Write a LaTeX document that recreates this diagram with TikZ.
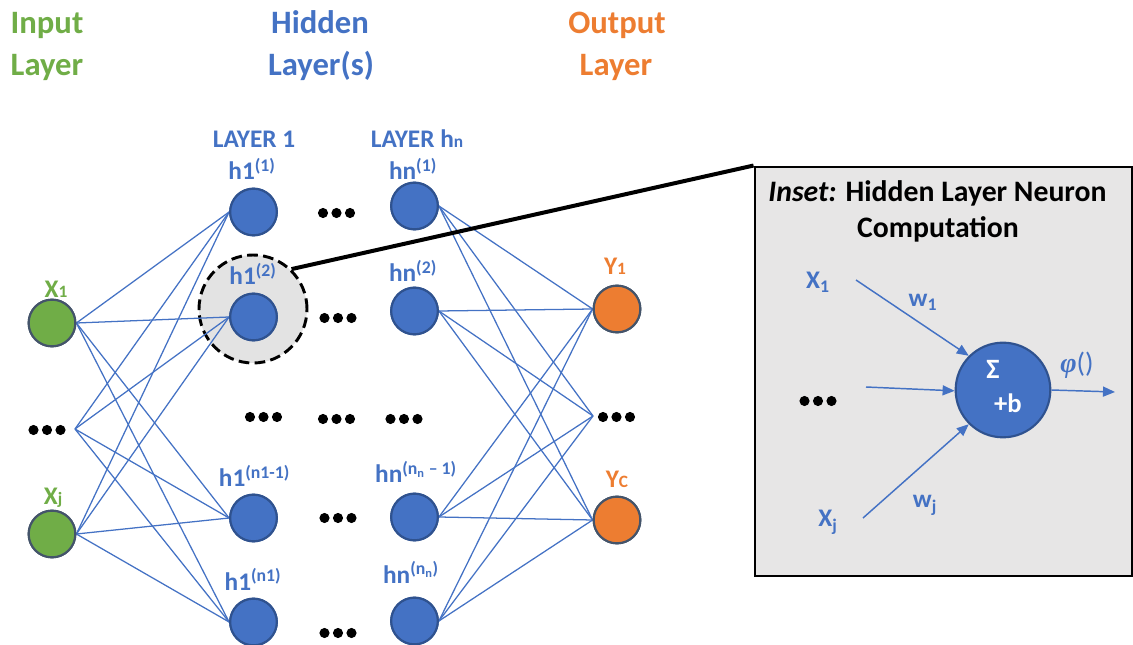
\documentclass[tikz,border=0pt]{standalone}
\usepackage{fontspec}
\setmainfont{Carlito}
\newfontfamily\phifont{Liberation Serif}
\usetikzlibrary{arrows.meta}

\definecolor{nnblue}{HTML}{4472C4}
\definecolor{nnblueedge}{HTML}{2F528F}
\definecolor{nngreen}{HTML}{70AD47}
\definecolor{nnorange}{HTML}{ED7D31}
\definecolor{nnslate}{HTML}{44546A}
\definecolor{insetgray}{HTML}{E7E6E6}
\definecolor{focusgray}{HTML}{E3E3E3}

% small index letter sitting on the baseline
\newcommand\baseidx[1]{{\fontsize{13}{15}\selectfont #1}}

\tikzset{
  threedots/.pic={\foreach \dx in {-13.5,0,13.5} \fill (\dx,0) circle[radius=3.8pt];},
}

\begin{document}
\begin{tikzpicture}[x=0.75pt,y=-0.75pt,
  neuron/.style={circle, minimum size=35pt, inner sep=0pt, line width=1.6pt},
  hid/.style={neuron, fill=nnblue, draw=nnblueedge},
  inp/.style={neuron, fill=nngreen, draw=nnslate},
  outp/.style={neuron, fill=nnorange, draw=nnslate},
  link/.style={draw=nnblue, line width=0.95pt},
  title/.style={font=\fontsize{24.5}{31.5}\selectfont\bfseries, anchor=base, inner sep=0pt},
  lbl/.style={font=\fontsize{19}{22}\selectfont\bfseries, text=nnblue, anchor=base, inner sep=0pt},
  inlbl/.style={lbl, text=nngreen},
  outlbl/.style={lbl, text=nnorange},
  insettitle/.style={font=\fontsize{22.3}{26}\selectfont\bfseries, anchor=base, inner sep=0pt},
  wire/.style={draw=nnblue, line width=1.1pt, -{Triangle[length=9pt,width=7.5pt]}},
]
\useasboundingbox (0,0) rectangle (1133,645);

% ---------- layer titles ----------
\node[title, text=nngreen] (tin1) at (47,34) {Input};
\node[title, text=nngreen] (tin2) at (47,76) {Layer};
\node[title, text=nnblue] (thid1) at (320,34) {Hidden};
\node[title, text=nnblue] (thid2) at (321,76) {Layer(s)};
\node[title, text=nnorange] (tout1) at (617,34) {Output};
\node[title, text=nnorange] (tout2) at (616,76) {Layer};

% ---------- highlighted neuron (behind the links) ----------
\node[circle, minimum size=81pt, inner sep=0pt, fill=focusgray, draw=black,
      line width=2.2pt, dash pattern=on 8pt off 4pt] (focus) at (253,309) {};

% ---------- neurons ----------
\node[inp] (x1) at (52,323) {};
\node[inp] (xj) at (52,534) {};
\coordinate (xdots) at (75,429);

\node[hid] (h1a) at (253.5,212) {};
\node[hid] (h1b) at (253.5,317) {};
\node[hid] (h1c) at (253.5,518) {};
\node[hid] (h1d) at (253.5,622) {};

\node[hid] (hna) at (414.5,206) {};
\node[hid] (hnb) at (414.5,311) {};
\node[hid] (hnc) at (414.5,517) {};
\node[hid] (hnd) at (414.5,621) {};

\node[outp] (y1) at (617,309) {};
\node[outp] (yc) at (617,520) {};
\coordinate (ydots) at (593,416);

% ---------- links ----------
\foreach \s in {x1.east, xj.east, xdots}
  \foreach \t in {h1a, h1b, h1c, h1d}
    \draw[link] (\s) -- (\t.west);
\foreach \s in {hna, hnb, hnc, hnd}
  \foreach \t in {y1.west, yc.west, ydots}
    \draw[link] (\s.east) -- (\t);

% redraw neurons on top of the links
\foreach \n/\st in {h1a/hid, h1b/hid, h1c/hid, h1d/hid, hna/hid, hnb/hid, hnc/hid, hnd/hid,
                    x1/inp, xj/inp, y1/outp, yc/outp}
  \node[\st] at (\n) {};

% ---------- ellipses ----------
\pic at (47,430) {threedots};
\pic at (616.5,417) {threedots};
\pic at (336.5,213) {threedots};
\pic at (338,318) {threedots};
\pic at (263.5,417) {threedots};
\pic at (336.5,419) {threedots};
\pic at (404,419) {threedots};
\pic at (338,518) {threedots};
\pic at (338,633) {threedots};

% ---------- neuron labels ----------
\node[lbl] (lay1) at (254,148) {LAYER 1};
\node[lbl] (layn) at (417,148) {LAYER h\baseidx{n}};
\node[lbl] (l1a) at (252,180) {h1\textsuperscript{(1)}};
\node[lbl] (lna) at (413,180) {hn\textsuperscript{(1)}};
\node[lbl] (l1b) at (253,285) {h1\textsuperscript{(2)}};
\node[lbl] (lnb) at (413,282) {hn\textsuperscript{(2)}};
\node[lbl] (l1c) at (254.5,487) {h1\textsuperscript{(n1-1)}};
\node[lbl] (lnc) at (416,483) {hn\textsuperscript{(n\textsubscript{n} -- 1)}};
\node[lbl] (l1d) at (253,590) {h1\textsuperscript{(n1)}};
\node[lbl] (lnd) at (411,583) {hn\textsuperscript{(n\textsubscript{n})}};
\node[inlbl] (lx1) at (56,298) {X\baseidx{1}};
\node[inlbl] (lxj) at (53,504) {X\baseidx{j}};
\node[outlbl] (ly1) at (615,275) {Y\baseidx{1}};
\node[outlbl] (lyc) at (617,488) {Y\baseidx{C}};

% ---------- inset ----------
\node[draw=black, fill=insetgray, line width=2.2pt, minimum width=282.75pt,
      minimum height=306.75pt, inner sep=0pt] (inset) at (943.5,371.5) {};
\draw[line width=3pt] (focus.46) -- (inset.north west);

\node[insettitle] (ititle1) at (937.5,202) {\textit{Inset:} Hidden Layer Neuron};
\node[insettitle] (ititle2) at (938,238) {Computation};

\node[circle, minimum size=71pt, inner sep=0pt, fill=nnblue, draw=nnblueedge,
      line width=1.6pt] (sum) at (1003,390) {};
\node[lbl, text=white, font=\fontsize{21}{24}\selectfont\bfseries] (sigma) at (993,379) {Σ};
\node[lbl, text=white, font=\fontsize{20}{24}\selectfont\bfseries] (bias) at (1008,413) {+b};

\node[lbl] (ix1) at (818,289) {X\textsubscript{1}};
\node[lbl] (ixj) at (828,527) {X\textsubscript{j}};
\node[lbl] (iw1) at (923,307) {w\textsubscript{1}};
\node[lbl] (iwj) at (925,508) {w\textsubscript{j}};
\node[lbl, font=\fontsize{21}{24}\selectfont] (iphi) at (1077,373) {{\phifont\itshape\bfseries φ}()};
\pic at (818,401) {threedots};

\coordinate (a1) at (856,280);
\coordinate (a2) at (866,387);
\coordinate (a3) at (863,518);
\coordinate (aout) at (1115,392);
\draw[wire] (a1) -- (sum.135);
\draw[wire] (a2) -- (sum.181);
\draw[wire] (a3) -- (sum.225);
\draw[wire] (sum.east) -- (aout);
\end{tikzpicture}
\end{document}
